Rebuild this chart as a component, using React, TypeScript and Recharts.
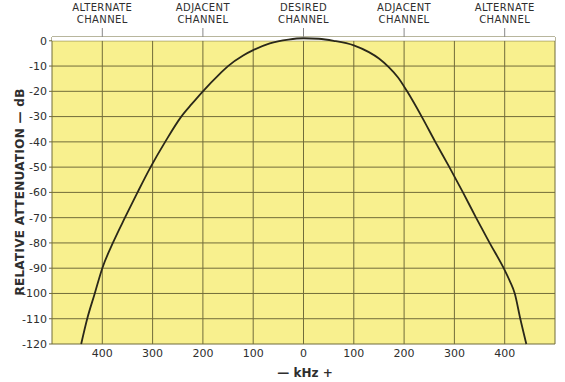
import React from 'react';
import { LineChart, Line, XAxis, YAxis, CartesianGrid, ReferenceArea, Label } from 'recharts';

// Frequency offset from the desired channel (kHz, negative = below)
const khz = [-442, -430, -415, -400, -379, -355, -330, -304, -275, -243, -222, -200, -166, -150, -120, -100, -67, -30, 0, 30, 60, 100, 130, 150, 170, 188, 206, 235, 262, 290, 317, 343, 370, 398, 410, 420, 431, 443];
// Relative attenuation (dB)
const attenuation = [-120, -110, -100, -90, -80, -70, -60, -50, -40, -30, -25, -20, -13, -10, -5.8, -3.7, -1, 0.5, 1, 0.8, 0, -1.8, -4.5, -7, -10.5, -14.5, -20, -30, -40, -50, -60, -70, -80, -90, -95, -100, -110, -120];

const xTicks = [-500, -400, -300, -200, -100, 0, 100, 200, 300, 400, 500];
const yTicks = [0, -10, -20, -30, -40, -50, -60, -70, -80, -90, -100, -110, -120];
const channelTicks = [-400, -200, 0, 200, 400];
const channelLabels = [
  ['ALTERNATE', 'CHANNEL'],
  ['ADJACENT', 'CHANNEL'],
  ['DESIRED', 'CHANNEL'],
  ['ADJACENT', 'CHANNEL'],
  ['ALTERNATE', 'CHANNEL'],
];

const data = khz.map((k, i) => ({ khz: k, db: attenuation[i] }));

const FONT = 'DejaVu Sans';
const TEXT = '#2e2e2e';
const GRID = '#716c3a';
const PLOT = '#f8f08e';

const ChannelTick = (props: any) => {
  const { x, payload } = props;
  const idx = channelTicks.indexOf(payload.value);
  const lines = channelLabels[idx] || ['', ''];
  return (
    <g>
      <text x={x} y={11} textAnchor="middle" fontFamily={FONT} fontSize={10} fill={TEXT} letterSpacing={0.4}>
        {lines[0]}
      </text>
      <text x={x} y={23} textAnchor="middle" fontFamily={FONT} fontSize={10} fill={TEXT} letterSpacing={0.4}>
        {lines[1]}
      </text>
      <line x1={x} x2={x} y1={28} y2={37} stroke="#888" strokeWidth={1} />
    </g>
  );
};

export default function App() {
  return (
    <div style={{ position: 'absolute', left: 0, top: 0, background: '#fff' }}>
      <LineChart width={565} height={382} data={data} margin={{ top: 0, right: 10, bottom: 0, left: 0 }}>
        <CartesianGrid
          xAxisId="bottom"
          yAxisId="y"
          stroke={GRID}
          strokeWidth={1}
          fill={PLOT}
          fillOpacity={1}
        />
        <ReferenceArea yAxisId="y" xAxisId="bottom" x1={-500} x2={500} y1={0} y2={1.5} fill="#ffffff" fillOpacity={1} stroke="none" ifOverflow="hidden" />
        <XAxis
          xAxisId="bottom"
          dataKey="khz"
          type="number"
          domain={[-500, 500]}
          ticks={xTicks}
          tickFormatter={(v: number) => (Math.abs(v) === 500 ? '' : String(Math.abs(v)))}
          tick={{ fontFamily: FONT, fontSize: 11, fill: TEXT }}
          tickLine={false}
          axisLine={false}
          tickSize={0}
          tickMargin={5}
          height={38}
          interval={0}
        >
          <Label
            content={() => (
              <text x={305} y={377} textAnchor="middle" fontFamily={FONT} fontSize={12} fontWeight="bold" fill={TEXT}>
                {'—  kHz  +'}
              </text>
            )}
          />
        </XAxis>
        <XAxis
          xAxisId="top"
          dataKey="khz"
          type="number"
          orientation="top"
          domain={[-500, 500]}
          ticks={channelTicks}
          tick={<ChannelTick />}
          tickLine={false}
          axisLine={false}
          height={37}
          interval={0}
        />
        <YAxis
          yAxisId="y"
          type="number"
          domain={[-120, 1.5]}
          ticks={yTicks}
          tickFormatter={(v: number) => (v === 0 ? '0' : '-' + Math.abs(v))}
          tick={{ fontFamily: FONT, fontSize: 11, fill: TEXT }}
          tickLine={{ stroke: GRID }}
          tickSize={3}
          tickMargin={2}
          axisLine={false}
          width={52}
          interval={0}
        >
          <Label
            content={() => (
              <text
                x={24}
                y={192}
                transform="rotate(-90 24 192)"
                textAnchor="middle"
                fontFamily={FONT}
                fontSize={12}
                fontWeight="bold"
                fill={TEXT}
                letterSpacing={0.3}
              >
                {'RELATIVE ATTENUATION — dB'}
              </text>
            )}
          />
        </YAxis>
        <Line
          xAxisId="bottom"
          yAxisId="y"
          dataKey="db"
          type="monotone"
          stroke="#2a281a"
          strokeWidth={1.8}
          dot={false}
          isAnimationActive={false}
        />
      </LineChart>
    </div>
  );
}
